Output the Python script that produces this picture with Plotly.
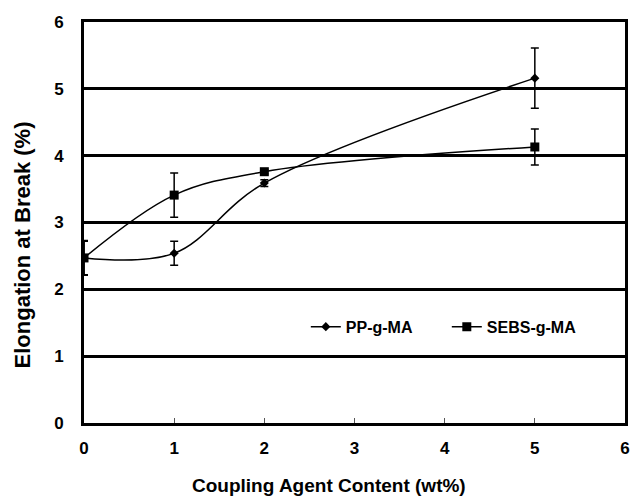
import plotly.graph_objects as go

x_vals = [0, 1, 2, 5]
pp_vals = [2.47, 2.54, 3.59, 5.16]
pp_err = [0.26, 0.18, 0.05, 0.45]
sebs_vals = [2.47, 3.41, 3.76, 4.13]
sebs_err = [0.25, 0.33, 0.03, 0.27]

x_ticks = [0, 1, 2, 3, 4, 5, 6]
y_ticks = [0, 1, 2, 3, 4, 5, 6]

font_family = "Liberation Sans, Arial, sans-serif"

fig = go.Figure()
fig.add_trace(go.Scatter(
    x=x_vals, y=pp_vals, name="PP-g-MA", mode="lines+markers",
    line=dict(color="black", width=1.5, shape="spline", smoothing=1),
    marker=dict(symbol="diamond", size=7, color="black"),
    error_y=dict(type="data", array=pp_err, color="black", thickness=1.5, width=4),
))
fig.add_trace(go.Scatter(
    x=x_vals, y=sebs_vals, name="SEBS-g-MA", mode="lines+markers",
    line=dict(color="black", width=1.5, shape="spline", smoothing=1),
    marker=dict(symbol="square", size=9, color="black"),
    error_y=dict(type="data", array=sebs_err, color="black", thickness=1.5, width=4),
))

fig.update_layout(
    width=634, height=496,
    margin=dict(l=84, r=4, t=22, b=73),
    paper_bgcolor="white", plot_bgcolor="white",
    font=dict(family=font_family, color="black"),
    legend=dict(
        orientation="h", x=0.41, y=0.24, xanchor="left", yanchor="middle",
        font=dict(family=font_family, size=16, weight="bold", color="black"),
        bgcolor="rgba(0,0,0,0)", itemwidth=30, entrywidth=96, tracegroupgap=0,
    ),
    xaxis=dict(
        range=[0, 6], tickvals=x_ticks, showgrid=False, zeroline=False,
        showline=True, linecolor="black", linewidth=3, mirror=True,
        ticks="inside", ticklen=5, tickwidth=1, tickcolor="#555",
        tickfont=dict(family=font_family, size=17, weight="bold"),
        ticklabelstandoff=8,
    ),
    yaxis=dict(
        range=[0, 6], tickvals=y_ticks, showgrid=True, gridcolor="black", gridwidth=3,
        zeroline=False, showline=True, linecolor="black", linewidth=3, mirror=True,
        ticks="", tickfont=dict(family=font_family, size=17, weight="bold"),
        ticklabelstandoff=14,
    ),
    annotations=[
        dict(text="Coupling Agent Content (wt%)", xref="paper", yref="paper",
             x=0.452, y=-0.155, xanchor="center", yanchor="middle", showarrow=False,
             font=dict(family=font_family, size=19, weight="bold")),
        dict(text="Elongation at Break (%)", xref="paper", yref="paper",
             x=-0.113, y=0.445, xanchor="center", yanchor="middle", showarrow=False,
             textangle=-90,
             font=dict(family=font_family, size=22, weight="bold")),
    ],
)

fig.write_html("out.html")
